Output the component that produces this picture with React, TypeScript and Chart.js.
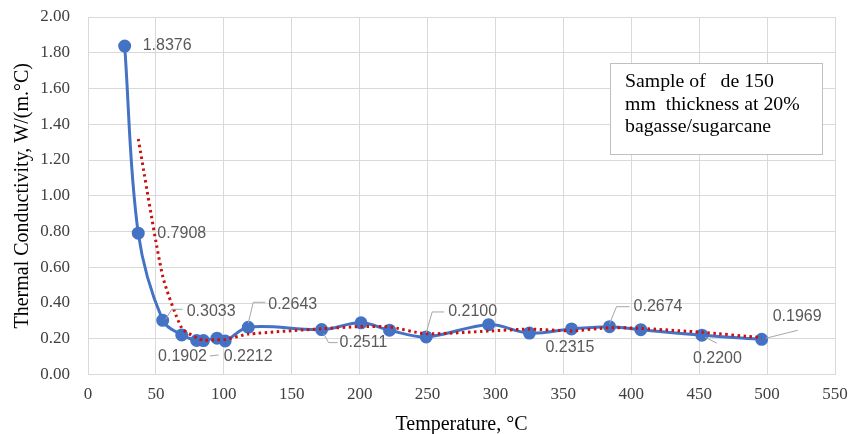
import React, { useEffect, useRef } from "react";
import { Chart, registerables } from "chart.js";
Chart.register(...registerables);

// Measured series (temperature °C, thermal conductivity W/(m.°C))
const temperatures = [27, 37, 55, 69, 80, 85, 95, 101, 118, 172, 201, 222, 249, 295, 325, 356, 384, 407, 452, 496];
const conductivity = [1.8376, 0.7908, 0.3033, 0.2212, 0.1902, 0.19, 0.203, 0.188, 0.2643, 0.2511, 0.289, 0.248, 0.21, 0.279, 0.2315, 0.255, 0.2674, 0.251, 0.22, 0.1969];

// Trend line (red dotted)
const trendTemperatures = [37, 55, 69, 80, 85, 95, 101, 118, 172, 201, 222, 249, 295, 325, 356, 384, 407, 452, 496];
const trendValues = [1.318, 0.55, 0.26, 0.205, 0.192, 0.195, 0.195, 0.226, 0.256, 0.268, 0.266, 0.228, 0.243, 0.254, 0.244, 0.262, 0.258, 0.236, 0.206];

// Data labels
const labelIndices = [0, 1, 2, 3, 4, 8, 9, 12, 14, 16, 18, 19];
const labelTexts = ["1.8376", "0.7908", "0.3033", "0.2212", "0.1902", "0.2643", "0.2511", "0.2100", "0.2315", "0.2674", "0.2200", "0.1969"];

// Axis ticks
const xMin = 0, xMax = 550, xStep = 50;
const yMin = 0, yMax = 2, yStep = 0.2;

const noteLines = ["Sample of   de 150", "mm  thickness at 20%", "bagasse/sugarcane"];

// Label placement (pixel offsets from the point): [dx to text left, dy to text middle, leader points]
const labelLayout: Array<[number, number, number[][]]> = [
  [18, 0, []],
  [19, 0, []],
  [24, -9, [[3, -1], [9, -11], [20, -11]]],
  [42, 22, [[28, 21], [37, 20]]],
  [-38.6, 16.5, []],
  [20, -23, [[0, -4], [5, -25], [17, -25]]],
  [18, 13, [[2, 4], [7, 13], [16, 13]]],
  [22, -25, [[0, -4], [6, -25], [18, -25]]],
  [16, 14, []],
  [24, -20, [[0, -3], [7, -20], [20, -20]]],
  [-9, 23, [[3, 2], [15, 8]]],
  [11, -23, [[4, -1], [36, -9]]],
];

const labelPlugin = {
  id: "dataLabels",
  afterDatasetsDraw(chart: any) {
    const ctx = chart.ctx;
    const xs = chart.scales.x;
    const ys = chart.scales.y;
    ctx.save();
    labelIndices.forEach((idx, k) => {
      const px = xs.getPixelForValue(temperatures[idx]);
      const py = ys.getPixelForValue(conductivity[idx]);
      const [dx, dy, leader] = labelLayout[k];
      if (leader.length > 1) {
        ctx.strokeStyle = "#a6a6a6";
        ctx.lineWidth = 1;
        ctx.beginPath();
        leader.forEach((p, j) => {
          if (j === 0) ctx.moveTo(px + p[0], py + p[1]);
          else ctx.lineTo(px + p[0], py + p[1]);
        });
        ctx.stroke();
      }
      ctx.fillStyle = "#595959";
      ctx.font = "16px 'Liberation Sans', Arial, sans-serif";
      ctx.textAlign = "left";
      ctx.textBaseline = "middle";
      ctx.fillText(labelTexts[k], px + dx, py + dy);
    });
    ctx.restore();
  },
};

const notePlugin = {
  id: "noteBox",
  afterDraw(chart: any) {
    const ctx = chart.ctx;
    ctx.save();
    ctx.fillStyle = "#ffffff";
    ctx.fillRect(610, 63, 212, 92);
    ctx.strokeStyle = "#bfbfbf";
    ctx.lineWidth = 1;
    ctx.strokeRect(610.5, 63.5, 212, 91);
    ctx.fillStyle = "#000000";
    ctx.font = "19.8px 'Liberation Serif', 'Times New Roman', serif";
    ctx.textAlign = "left";
    ctx.textBaseline = "middle";
    noteLines.forEach((t, i) => ctx.fillText(t, 625, 82 + i * 22.5));
    ctx.restore();
  },
};

export default function App() {
  const ref = useRef<HTMLCanvasElement>(null);
  useEffect(() => {
    document.body.style.margin = "0";
    const canvas = ref.current!;
    const grid = "#d9d9d9";
    const tickFont = { family: "'Liberation Serif', 'Times New Roman', serif", size: 17 };
    const chart = new Chart(canvas, {
      type: "line",
      data: {
        datasets: [
          {
            label: "Trend",
            data: trendTemperatures.map((x, i) => ({ x, y: trendValues[i] })),
            borderColor: "#cc1010",
            borderWidth: 3,
            borderDash: [2.5, 3.5],
            pointRadius: 0,
            tension: 0.2,
            fill: false,
            order: 0,
          },
          {
            label: "Thermal conductivity",
            data: temperatures.map((x, i) => ({ x, y: conductivity[i] })),
            borderColor: "#4472c4",
            backgroundColor: "#4472c4",
            borderWidth: 3,
            pointRadius: 5,
            pointBackgroundColor: "#4472c4",
            pointBorderColor: "#4472c4",
            tension: 0.35,
            fill: false,
            order: 1,
          },
        ],
      },
      options: {
        responsive: false,
        animation: false,
        layout: { padding: { left: 8, right: 15, top: 17, bottom: 0 } },
        plugins: {
          legend: { display: false },
          tooltip: { enabled: false },
        },
        scales: {
          x: {
            type: "linear",
            min: xMin,
            max: xMax,
            ticks: { stepSize: xStep, color: "#404040", font: tickFont, padding: 10, maxRotation: 0 },
            grid: { color: grid, drawTicks: false },
            border: { color: grid },
            title: {
              display: true,
              text: "Temperature, °C",
              color: "#000000",
              font: { family: "'Liberation Serif', 'Times New Roman', serif", size: 20 },
              padding: { top: 0, bottom: -3 },
            },
            afterFit: (s: any) => {
              s.height = 59.5;
              s.paddingLeft = 0;
              s.paddingRight = 0;
            },
          },
          y: {
            type: "linear",
            min: yMin,
            max: yMax,
            ticks: {
              stepSize: yStep,
              color: "#404040",
              font: tickFont,
              padding: 18,
              callback: (v: any) => Number(v).toFixed(2),
            },
            grid: { color: grid, drawTicks: false },
            border: { color: grid },
            title: {
              display: true,
              text: "Thermal Conductivity, W/(m.°C)",
              color: "#000000",
              font: { family: "'Liberation Serif', 'Times New Roman', serif", size: 20 },
              padding: { top: 3, bottom: 0 },
            },
            afterFit: (s: any) => {
              s.width = 80;
              s.paddingTop = 0;
              s.paddingBottom = 0;
            },
          },
        },
      },
      plugins: [labelPlugin, notePlugin],
    });
    return () => chart.destroy();
  }, []);
  return (
    <div style={{ width: 850, height: 434, background: "#ffffff" }}>
      <canvas ref={ref} width={850} height={434} />
    </div>
  );
}
